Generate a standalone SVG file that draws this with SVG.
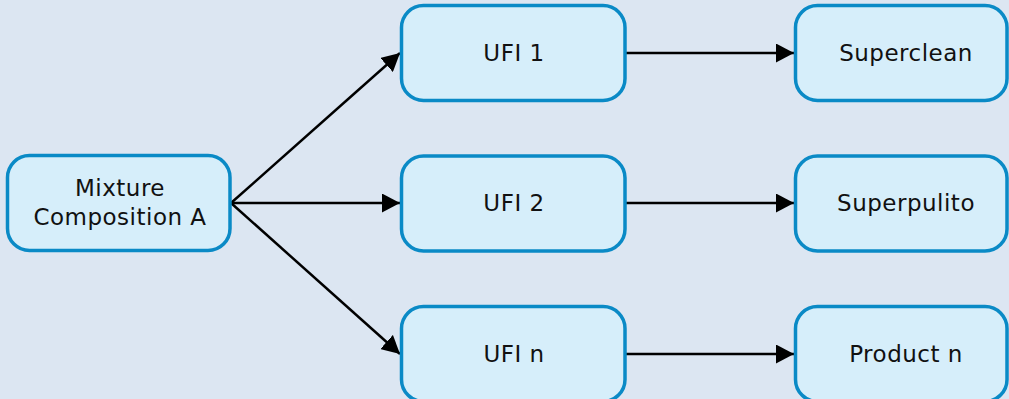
<svg xmlns="http://www.w3.org/2000/svg" width="1009" height="399" viewBox="0 0 1009 399">
<style>
.box{fill:#d6eefa;stroke:#0a8ac6;stroke-width:3.5}
.t{font-family:"DejaVu Sans",Verdana,sans-serif;font-size:23px;fill:#111;text-anchor:middle;letter-spacing:0.5px}
.c{stroke:#000;stroke-width:2.5;fill:none;marker-end:url(#ah)}
</style>
<defs>
<marker id="ah" viewBox="0 0 18 19" refX="18" refY="9.5" markerWidth="18" markerHeight="19" markerUnits="userSpaceOnUse" orient="auto">
<path d="M0,0 L18,9.5 L0,19 Z" fill="#000"/>
</marker>
</defs>
<rect width="1009" height="399" fill="#dce6f2"/>
<g id="connectors">
<line class="c" x1="231" y1="203" x2="400" y2="53"/>
<line class="c" x1="231" y1="203" x2="400" y2="203"/>
<line class="c" x1="231" y1="203" x2="400" y2="354"/>
<line class="c" x1="626" y1="53" x2="794" y2="53"/>
<line class="c" x1="626" y1="203" x2="794" y2="203"/>
<line class="c" x1="626" y1="354" x2="794" y2="354"/>
</g>
<g id="mixture"><rect class="box" x="7.5" y="155.5" width="222.5" height="95" rx="22"/><text class="t" x="120" y="196">Mixture</text><text class="t" x="120" y="225">Composition A</text></g>
<g id="ufi1"><rect class="box" x="401.5" y="5.5" width="223.5" height="95" rx="22"/><text class="t" x="514" y="61">UFI 1</text></g>
<g id="ufi2"><rect class="box" x="401.5" y="156" width="223.5" height="95" rx="22"/><text class="t" x="514" y="211">UFI 2</text></g>
<g id="ufin"><rect class="box" x="401.5" y="306.5" width="223.5" height="95" rx="22"/><text class="t" x="514" y="362">UFI n</text></g>
<g id="superclean"><rect class="box" x="795.5" y="5.5" width="211.5" height="95" rx="22"/><text class="t" x="906" y="61">Superclean</text></g>
<g id="superpulito"><rect class="box" x="795.5" y="156" width="211.5" height="95" rx="22"/><text class="t" x="906" y="211">Superpulito</text></g>
<g id="productn"><rect class="box" x="795.5" y="306.5" width="211.5" height="95" rx="22"/><text class="t" x="906" y="362">Product n</text></g>
</svg>
